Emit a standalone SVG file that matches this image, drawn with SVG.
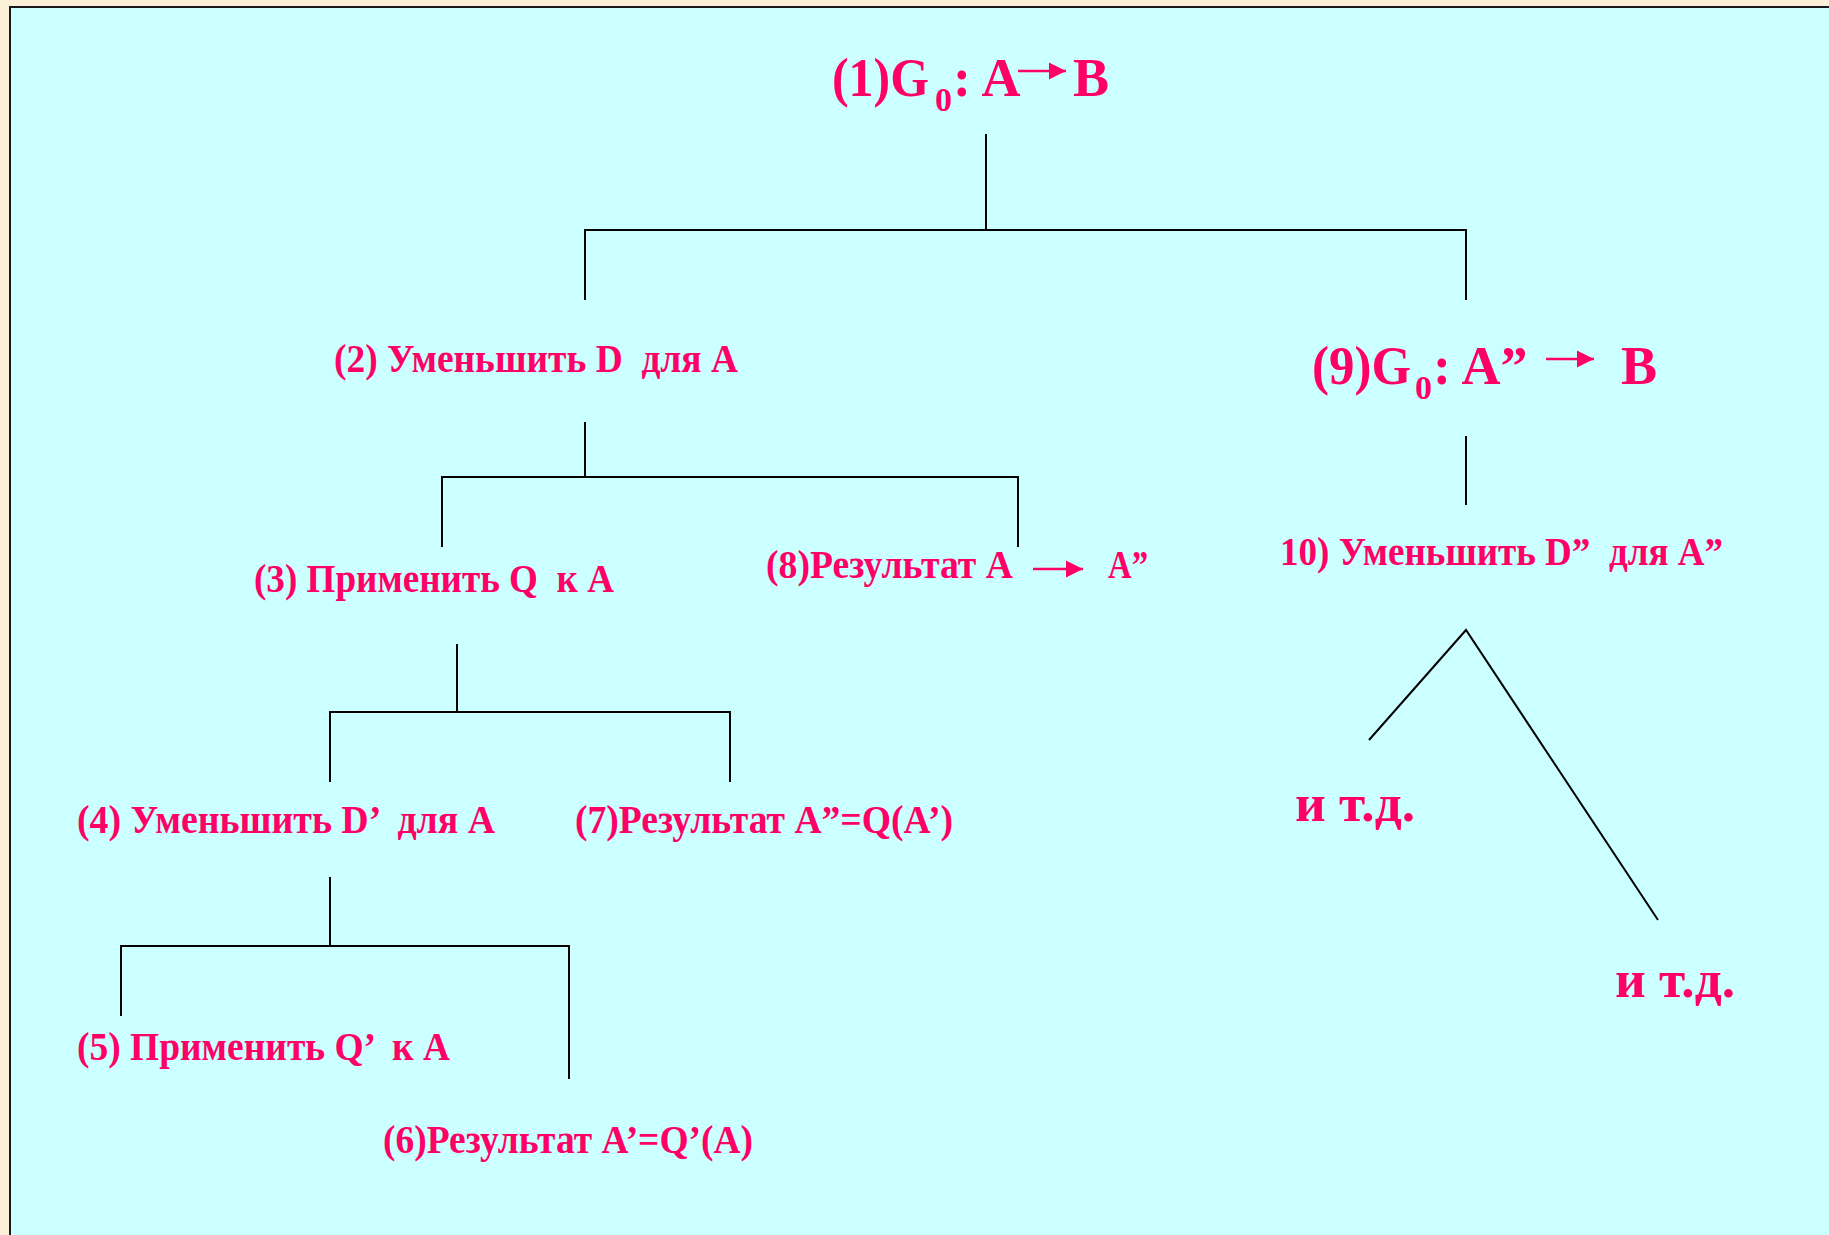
<svg xmlns="http://www.w3.org/2000/svg" width="1829" height="1235" viewBox="0 0 1829 1235">
  <style>
    .lbl { font-family: "Liberation Serif", "Times New Roman", serif; font-weight: bold; fill: #ff0066; white-space: pre; }
    .big { font-size: 54px; }
    .mid { font-size: 39px; }
    .etc { font-size: 52px; }
    .sub { font-size: 34px; }
    .wire { stroke: #000; stroke-width: 2; fill: none; }
    .arr { stroke: #ff0066; stroke-width: 2.5; fill: none; }
  </style>
  <defs>
    <marker id="head" viewBox="0 0 10 10" refX="10" refY="5" markerWidth="7" markerHeight="7" markerUnits="strokeWidth" orient="auto">
      <path d="M0,0 L10,5 L0,10 Z" fill="#ff0066"/>
    </marker>
  </defs>

  <!-- page and panel -->
  <rect x="0" y="0" width="1829" height="1235" fill="#fdf0d8"/>
  <rect x="10" y="7" width="1840" height="1250" fill="#ccffff" stroke="#1a1a1a" stroke-width="2"/>

  <!-- tree connectors -->
  <g id="connectors">
    <path class="wire" d="M986,134 V230 M585,300 V230 H1466 V300"/>
    <path class="wire" d="M585,422 V477 M442,547 V477 H1018 V547"/>
    <path class="wire" d="M1466,436 V505"/>
    <path class="wire" d="M457,644 V712 M330,782 V712 H730 V782"/>
    <path class="wire" d="M330,877 V946 M121,1016 V946 H569 V1079"/>
    <path class="wire" d="M1369,740 L1466,630 L1658,920"/>
  </g>

  <g id="n1">
    <text class="lbl big" x="832" y="96" textLength="97" lengthAdjust="spacingAndGlyphs">(1)G</text>
    <text class="lbl sub" x="935" y="111">0</text>
    <text class="lbl big" x="953" y="96">: A</text>
    <text class="lbl big" x="1073" y="96">B</text>
    <line class="arr" x1="1018" y1="71" x2="1066" y2="71" marker-end="url(#head)"/>
  </g>

  <g id="n2">
    <text class="lbl mid" x="334" y="372" textLength="404" lengthAdjust="spacingAndGlyphs">(2) Уменьшить D  для A</text>
  </g>

  <g id="n9">
    <text class="lbl big" x="1312" y="384" textLength="99" lengthAdjust="spacingAndGlyphs">(9)G</text>
    <text class="lbl sub" x="1415" y="399">0</text>
    <text class="lbl big" x="1433" y="384">: A”</text>
    <text class="lbl big" x="1621" y="384">B</text>
    <line class="arr" x1="1546" y1="359" x2="1594" y2="359" marker-end="url(#head)"/>
  </g>

  <g id="n3">
    <text class="lbl mid" x="254" y="592" textLength="360" lengthAdjust="spacingAndGlyphs">(3) Применить Q  к A</text>
  </g>

  <g id="n8">
    <text class="lbl mid" x="766" y="578" textLength="247" lengthAdjust="spacingAndGlyphs">(8)Результат A</text>
    <line class="arr" x1="1033" y1="569" x2="1083" y2="569" marker-end="url(#head)"/>
    <text class="lbl mid" x="1108" y="578" textLength="40" lengthAdjust="spacingAndGlyphs">A”</text>
  </g>

  <g id="n10">
    <text class="lbl mid" x="1280" y="565" textLength="443" lengthAdjust="spacingAndGlyphs">10) Уменьшить D”  для A”</text>
  </g>

  <g id="n4">
    <text class="lbl mid" x="77" y="833" textLength="418" lengthAdjust="spacingAndGlyphs">(4) Уменьшить D’  для A</text>
  </g>

  <g id="n7">
    <text class="lbl mid" x="575" y="833" textLength="378" lengthAdjust="spacingAndGlyphs">(7)Результат A”=Q(A’)</text>
  </g>

  <g id="n5">
    <text class="lbl mid" x="77" y="1060" textLength="373" lengthAdjust="spacingAndGlyphs">(5) Применить Q’  к A</text>
  </g>

  <g id="n6">
    <text class="lbl mid" x="383" y="1153" textLength="370" lengthAdjust="spacingAndGlyphs">(6)Результат A’=Q’(A)</text>
  </g>

  <g id="n11">
    <text class="lbl etc" x="1295" y="821" textLength="120" lengthAdjust="spacingAndGlyphs">и т.д.</text>
  </g>

  <g id="n12">
    <text class="lbl etc" x="1615" y="997" textLength="120" lengthAdjust="spacingAndGlyphs">и т.д.</text>
  </g>
</svg>
